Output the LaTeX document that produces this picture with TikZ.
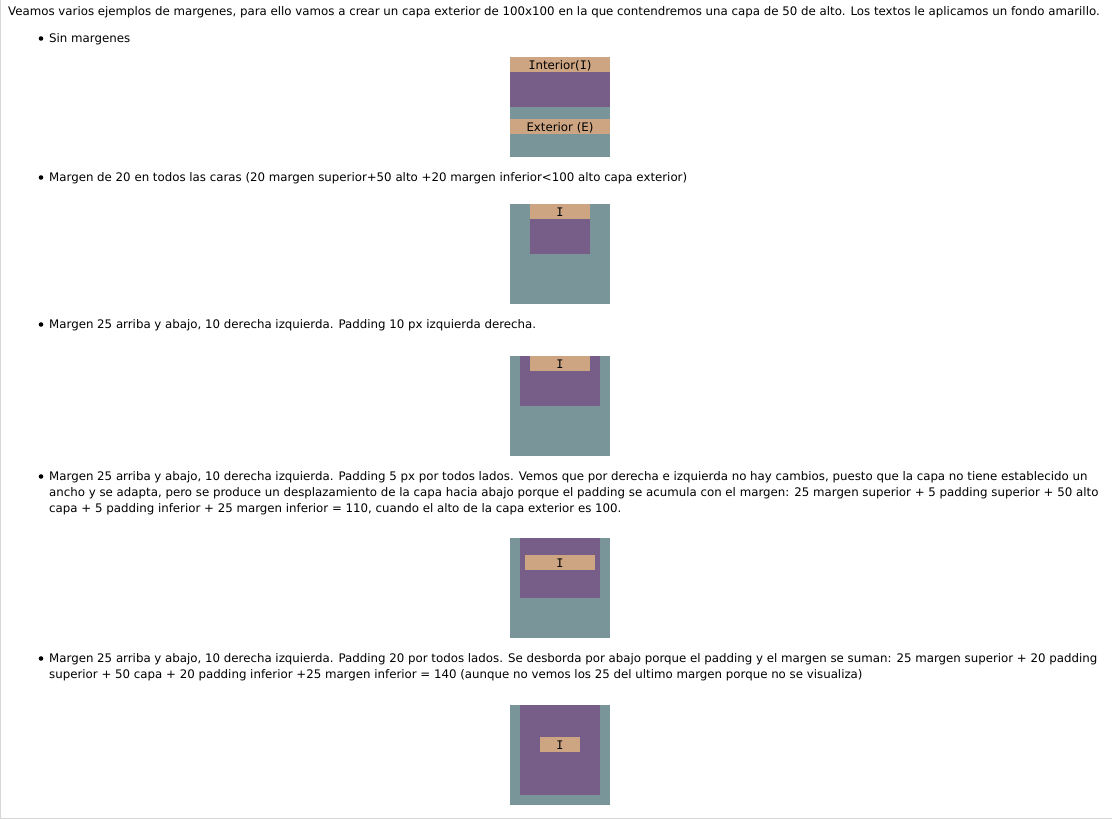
\documentclass[tikz,border=0pt]{standalone}
\usepackage{fontspec}
\setmainfont{DejaVu Sans}
\newfontfamily\capfont{DejaVu Sans Mono}
\newcommand{\serifI}{{\capfont I}}
\definecolor{outerbg}{RGB}{122,149,153}
\definecolor{innerbg}{RGB}{118,94,137}
\definecolor{labelbg}{RGB}{205,165,130}
\definecolor{frame}{RGB}{214,214,214}
\tikzset{
  para/.style={anchor=base west, inner sep=0pt, font=\fontsize{11.8}{16}\selectfont, text=black},
  bulletdot/.style={circle, fill=black, inner sep=0pt, minimum size=4.6pt},
  boxtext/.style={inner sep=0pt, anchor=base, font=\fontsize{11.8}{13}\selectfont, text=black},
}
\begin{document}
\begin{tikzpicture}[x=1pt,y=-1pt]
\useasboundingbox (0,0) rectangle (1112,819);
\fill[white] (0,0) rectangle (1112,819);
% page frame
\draw[frame, line width=1pt] (0.5,0) -- (0.5,818.5) -- (1112,818.5);

% intro
\node[para] (intro) at (8,16) {Veamos varios ejemplos de margenes, para ello vamos a crear un capa exterior de 100x100 en la que contendremos una capa de 50 de alto. Los textos le aplicamos un fondo amarillo.};

% example 1: no margins
\node[bulletdot] (b1) at (41,38.5) {};
\node[para] (t1) at (49,42) {Sin margenes};
\fill[outerbg] (510,107) rectangle (610,157);
\fill[innerbg] (510,57) rectangle (610,107);
\fill[labelbg] (510,57) rectangle (610,72);
\node[boxtext] (l1a) at (560,69.3) {\serifI nterior(\serifI)};
\fill[labelbg] (510,119) rectangle (610,134);
\node[boxtext] (l1b) at (560,131.3) {Exterior (E)};

% example 2: margin 20
\node[bulletdot] (b2) at (41,177.5) {};
\node[para] (t2) at (49,181) {Margen de 20 en todos las caras (20 margen superior+50 alto +20 margen inferior<100 alto capa exterior)};
\fill[outerbg] (510,204) rectangle (610,304);
\fill[innerbg] (530,204) rectangle (590,254);
\fill[labelbg] (530,204) rectangle (590,219);
\node[boxtext] (l2) at (560,216.3) {\serifI};

% example 3: margin 25/10, padding 10 left/right
\node[bulletdot] (b3) at (41,324.5) {};
\node[para] (t3) at (49,328) {Margen 25 arriba y abajo, 10 derecha izquierda. Padding 10 px izquierda derecha.};
\fill[outerbg] (510,356) rectangle (610,456);
\fill[innerbg] (520,356) rectangle (600,406);
\fill[labelbg] (530,356) rectangle (590,371);
\node[boxtext] (l3) at (560,368.3) {\serifI};

% example 4: margin 25/10, padding 5
\node[bulletdot] (b4) at (41,476.5) {};
\node[para] (t4a) at (49,480) {Margen 25 arriba y abajo, 10 derecha izquierda. Padding 5 px por todos lados. Vemos que por derecha e izquierda no hay cambios, puesto que la capa no tiene establecido un};
\node[para] (t4b) at (49,496) {ancho y se adapta, pero se produce un desplazamiento de la capa hacia abajo porque el padding se acumula con el margen: 25 margen superior + 5 padding superior + 50 alto};
\node[para] (t4c) at (49,512) {capa + 5 padding inferior + 25 margen inferior = 110, cuando el alto de la capa exterior es 100.};
\fill[outerbg] (510,538) rectangle (610,638);
\fill[innerbg] (520,538) rectangle (600,598);
\fill[labelbg] (525,555) rectangle (595,570);
\node[boxtext] (l4) at (560,567.3) {\serifI};

% example 5: margin 25/10, padding 20
\node[bulletdot] (b5) at (41,658.5) {};
\node[para] (t5a) at (49,662) {Margen 25 arriba y abajo, 10 derecha izquierda. Padding 20 por todos lados. Se desborda por abajo porque el padding y el margen se suman: 25 margen superior + 20 padding};
\node[para] (t5b) at (49,678) {superior + 50 capa + 20 padding inferior +25 margen inferior = 140 (aunque no vemos los 25 del ultimo margen porque no se visualiza)};
\fill[outerbg] (510,705) rectangle (610,805);
\fill[innerbg] (520,705) rectangle (600,795);
\fill[labelbg] (540,737) rectangle (580,752);
\node[boxtext] (l5) at (560,749.3) {\serifI};
\end{tikzpicture}
\end{document}
